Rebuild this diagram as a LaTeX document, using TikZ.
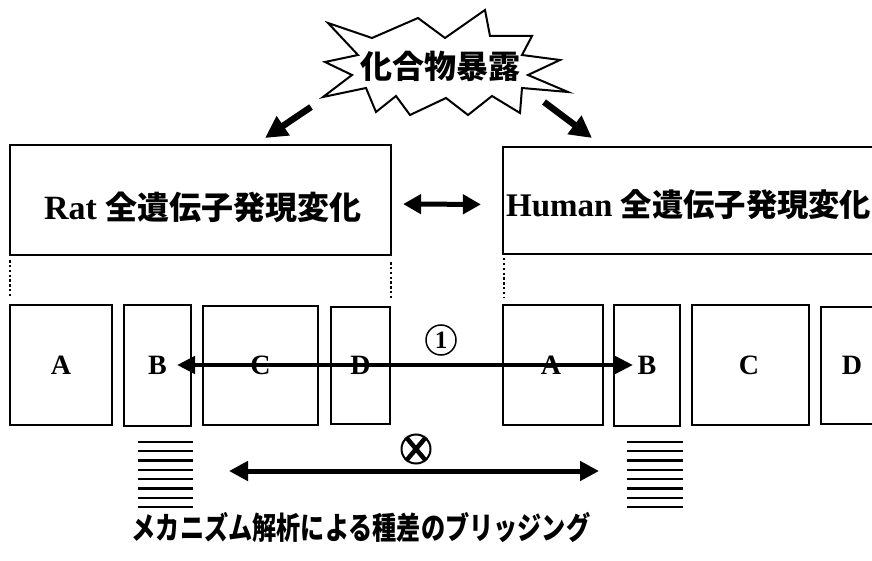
\documentclass[tikz,border=0pt]{standalone}
\usepackage{fontspec}
\setmainfont{Liberation Serif}
\newfontfamily\jp{Noto Sans CJK JP}
\usetikzlibrary{arrows.meta,calc}
\begin{document}
\begin{tikzpicture}[x=1pt,y=-1pt,
  box/.style={draw,line width=2.2pt,inner sep=0pt,fill=white},
  letter/.style={inner sep=0pt,font=\fontsize{28}{30}\selectfont\bfseries},
  dotline/.style={line width=2.6pt,dash pattern=on 2.4pt off 2.4pt},
  bigarrow/.style={line width=6.5pt,-{Triangle[length=22pt,width=22pt]}},
  dblarrow/.style={line width=5pt,{Triangle[length=18pt,width=19pt]}-{Triangle[length=18pt,width=19pt]}},
  stripe/.style={line width=2.3pt}]
\clip (0,0) rectangle (872,561);
\fill[white] (0,0) rectangle (872,561);

% starburst
\draw[line width=2pt,fill=white,line join=miter]
 (325,62) -- (358,55) -- (328,23) -- (372,38) -- (418,18) -- (445,38) -- (485,10) -- (490,36)
 -- (532,36) -- (522,55) -- (560,60) -- (528,75) -- (568,92) -- (522,88) -- (520,113)
 -- (492,96) -- (468,115) -- (446,98) -- (410,115) -- (396,96) -- (376,112) -- (366,88)
 -- (323,97) -- (352,75) -- cycle;
\node[inner sep=0pt,font=\jp\bfseries\fontsize{32}{34}\selectfont] (expo) at (440,66) {化合物暴露};

% star arrows
\coordinate (sl1) at (311,107); \coordinate (sl2) at (265,138);
\coordinate (sr1) at (544,102); \coordinate (sr2) at (592,138);
\draw[bigarrow] (sl1) -- (sl2);
\draw[bigarrow] (sr1) -- (sr2);

% main boxes
\node[box,minimum width=381pt,minimum height=110pt] (rat) at (200.5,200) {};
\node[box,minimum width=387pt,minimum height=107pt] (human) at (696.5,200.5) {};
\node[anchor=west,inner sep=0pt] (ratlbl) at (44,207)
  {\fontsize{34}{38}\selectfont\bfseries Rat {\fontsize{32}{36}\selectfont\jp 全遺伝子発現変化}};
\node[anchor=west,inner sep=0pt] (humlbl) at (506,205)
  {\fontsize{33}{38}\selectfont\bfseries Human {\fontsize{31.3}{36}\selectfont\jp 全遺伝子発現変化}};

\draw[dblarrow,shorten <=11pt,shorten >=21pt] ([yshift=-4pt]rat.east) -- ([yshift=-4pt]human.west);

% small boxes
\node[box,minimum width=102pt,minimum height=120pt] (rA) at (61,365) {};
\node[box,minimum width=67pt,minimum height=121pt] (rB) at (157.5,365.5) {};
\node[box,minimum width=115pt,minimum height=119pt] (rC) at (260.5,365.5) {};
\node[box,minimum width=59pt,minimum height=117pt] (rD) at (360.5,365.5) {};
\node[box,minimum width=100pt,minimum height=120pt] (hA) at (553,365) {};
\node[box,minimum width=66pt,minimum height=121pt] (hB) at (647,365.5) {};
\node[box,minimum width=117pt,minimum height=120pt] (hC) at (750.5,365) {};
\node[box,minimum width=62pt,minimum height=117pt] (hD) at (852,365.5) {};

\node[letter] (lA) at (61,365) {A};
\node[letter] (lB) at (157.5,365) {B};
\node[letter] (lC) at (260.5,365) {C};
\node[letter] (lD) at (360.5,365) {D};
\node[letter] (hlA) at (551,365) {A};
\node[letter] (hlB) at (647,365) {B};
\node[letter] (hlC) at (749,365) {C};
\node[letter] (hlD) at (852,365) {D};

% dotted connectors
\draw[dotline,shorten <=4pt,shorten >=8pt] ([xshift=1pt]rat.south west) -- ([xshift=1pt]rA.north west);
\draw[dotline,shorten <=6pt,shorten >=8pt] ([xshift=-1pt]rat.south east) -- (rD.north east);
\draw[dotline,shorten <=3pt,shorten >=7pt] ([xshift=2pt]human.south west) -- ([xshift=2pt]hA.north west);

% arrow 1
\draw[line width=4.4pt,{Triangle[length=18pt,width=17pt]}-{Triangle[length=18pt,width=17pt]},
  shorten <=19.5pt,shorten >=14pt] (lB.center) -- (hlB.center);
\node[draw,circle,line width=1.5pt,minimum size=30pt,inner sep=0pt,
  font=\fontsize{25}{26}\selectfont\bfseries] (one) at (441,340) {1};

% stripes
\foreach \i in {0,...,7}{
  \draw[stripe] (138,442+9.3*\i) -- (193,442+9.3*\i);
  \draw[stripe] (627,442+9.3*\i) -- (683,442+9.3*\i);
}

% lower arrow
\coordinate (xl) at (229,471); \coordinate (xr) at (599,471);
\draw[line width=5pt,{Triangle[length=19pt,width=19pt]}-{Triangle[length=19pt,width=19pt]}] (xl) -- (xr);
\node[draw,circle,line width=2pt,minimum size=29pt,inner sep=0pt] (ng) at (416,449) {};
\draw[line width=4.5pt] (ng.50) -- (ng.230) (ng.130) -- (ng.310);

% bottom caption
\node[inner sep=0pt,xscale=0.78,font=\jp\bfseries\fontsize{31}{33}\selectfont] (cap) at (361,527)
  {メカニズム解析による種差のブリッジング};
\end{tikzpicture}
\end{document}
